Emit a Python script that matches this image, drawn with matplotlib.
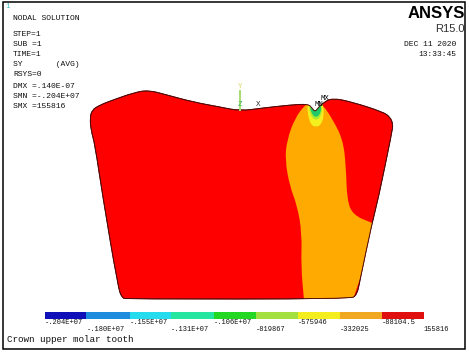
import matplotlib
matplotlib.use("Agg")
import matplotlib.pyplot as plt
from matplotlib.path import Path
from matplotlib.patches import PathPatch, Rectangle

# contour levels and their colours
levels = [-2040000, -1800000, -1550000, -1310000, -1060000, -819867, -575946, -332025, -88104.5, 155816]
level_labels = ["-.204E+07", "-.180E+07", "-.155E+07", "-.131E+07", "-.106E+07",
                "-819867", "-575946", "-332025", "-88104.5", "155816"]
level_colors = ["#1010b8", "#1e8cdc", "#24dcee", "#24e6a0", "#22d822",
                "#a4e040", "#f4ee20", "#f0a820", "#e01010"]

info_lines = ["STEP=1", "SUB =1", "TIME=1", "SY       (AVG)", "RSYS=0",
              "DMX =.140E-07", "SMN =-.204E+07", "SMX =155816"]
info_y = [34, 44, 54, 65, 75, 86, 97, 107]

# outlines, in image pixels
tooth_x = [91, 90, 92, 100, 113, 133, 148, 167, 193, 220, 240, 263, 290, 308, 312, 315,
           318, 323, 332, 352, 383, 390, 393, 392, 378, 372, 360, 357, 350, 127, 122, 118, 102, 95]
tooth_y = [130, 118, 110, 105, 100, 93, 90, 95, 102, 107, 111, 108, 105, 104, 108, 112,
           108, 103, 98, 102, 112, 117, 124, 132, 200, 223, 280, 295, 299, 299, 298, 287, 192, 145]

orange_x = [305, 295, 287, 285, 290, 297, 302, 301, 304, 304, 350, 355, 372, 378, 372, 353, 347, 346, 343, 333, 323, 314]
orange_y = [105, 118, 140, 160, 187, 205, 233, 267, 299, 305, 305, 295, 240, 225, 223, 215, 200, 167, 140, 120, 105, 98]

yellow_x = [307, 308, 311, 316, 321, 324, 323, 320, 312]
yellow_y = [104, 116, 125, 127, 125, 116, 104, 98, 98]
lime_x = [309, 310, 316, 322, 322, 316]
lime_y = [104, 115, 121, 115, 104, 98]
green_x = [310, 311, 316, 321, 321, 316]
green_y = [104, 113, 118, 113, 104, 98]

triad_x = [240, 240]
triad_y = [91, 110]


def smooth_path(xs, ys):
    # closed quadratic curve through the midpoints of the outline
    pts = list(zip(xs, ys))
    mids = [((a[0] + b[0]) / 2, (a[1] + b[1]) / 2) for a, b in zip(pts, pts[1:] + pts[:1])]
    verts = [mids[-1]]
    codes = [Path.MOVETO]
    for p, m in zip(pts, mids):
        verts += [p, m]
        codes += [Path.CURVE3, Path.CURVE3]
    return Path(verts, codes)


fig = plt.figure(figsize=(4.69, 3.52), dpi=100)
ax = fig.add_axes([0, 0, 1, 1])
ax.set_xlim(0, 469)
ax.set_ylim(352, 0)
ax.axis("off")

ax.add_patch(Rectangle((3, 2), 462, 347, fill=False, ec="black", lw=1.1))

tooth = PathPatch(smooth_path(tooth_x, tooth_y), fc="#ff0000", ec="#7a0505", lw=0.7, zorder=2)
ax.add_patch(tooth)
for xs, ys, col in [(orange_x, orange_y, "#ffaa00"), (yellow_x, yellow_y, "#f4f020"),
                    (lime_x, lime_y, "#a8e830"), (green_x, green_y, "#20c868")]:
    region = PathPatch(smooth_path(xs, ys), fc=col, ec="none", zorder=3)
    ax.add_patch(region)
    region.set_clip_path(tooth.get_path(), tooth.get_transform())
# outline again, over the regions
ax.add_patch(PathPatch(smooth_path(tooth_x, tooth_y), fc="none", ec="#4a0a0a", lw=0.6, zorder=4))

# triad and markers
ax.plot(triad_x, triad_y, color="#a8e070", lw=1.4, zorder=5)
ax.text(240, 87, "Y", color="#d8d860", family="Liberation Mono", fontsize=5.5, ha="center", va="center")
ax.text(240, 105, "Z", color="#40b060", family="Liberation Mono", fontsize=5.5, ha="center", va="center", zorder=6)
ax.text(258, 104, "X", color="#303030", family="Liberation Mono", fontsize=5.5, ha="center", va="center")
ax.text(325, 98, "MX", color="black", family="Liberation Mono", fontsize=5.2, ha="center", va="center", zorder=6)
ax.text(319, 104, "MN", color="black", family="Liberation Mono", fontsize=5.2, ha="center", va="center", zorder=6)

# header text
mono = dict(family="Liberation Mono", fontsize=5.8, color="#101010", va="center")
ax.text(8, 7, "1", color="#40c0c0", family="Liberation Mono", fontsize=5.5, ha="center", va="center")
ax.text(13, 18, "NODAL SOLUTION", **mono)
for line, y in zip(info_lines, info_y):
    ax.text(13, y, line, **mono)
ax.text(465, 18, "ANSYS", family="Liberation Sans", weight="bold", fontsize=12, ha="right", va="baseline")
ax.text(465, 32, "R15.0", family="Liberation Sans", fontsize=8, color="#303030", ha="right", va="baseline")
ax.text(456, 44, "DEC 11 2020", ha="right", **mono)
ax.text(456, 55, "13:33:45", ha="right", **mono)
ax.text(7, 340, "Crown upper molar tooth", family="Liberation Mono", fontsize=6.7, color="#101010", va="center")

# legend strip, uses its own value axis
cax = fig.add_axes([45 / 469, 1 - 319 / 352, (424 - 45) / 469, 7 / 352])
cax.barh(0, [b - a for a, b in zip(levels, levels[1:])], left=levels[:-1], height=1, color=level_colors)
cax.set_xlim(levels[0], levels[-1])
cax.set_ylim(-0.5, 0.5)
cax.axis("off")
for i, (val, lab) in enumerate(zip(levels, level_labels)):
    trans = cax.get_xaxis_transform()
    cax.text(val, -0.45 if i % 2 == 0 else -1.45, lab, transform=trans, family="Liberation Mono",
             fontsize=5.0, color="#101010", ha="left", va="center", clip_on=False)

fig.savefig("out.png", dpi=100)
